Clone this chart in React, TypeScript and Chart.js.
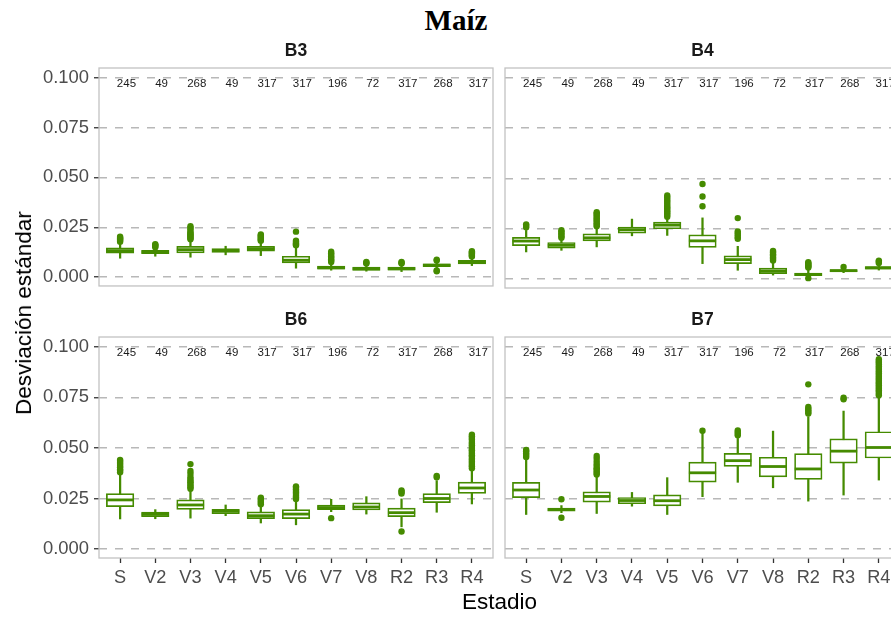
import React, { useEffect, useRef } from "react";
import { Chart, registerables } from "chart.js";

Chart.register(...registerables);

// ---------------- data ----------------
const stages = ["S", "V2", "V3", "V4", "V5", "V6", "V7", "V8", "R2", "R3", "R4"];
const countLabels = ["245", "49", "268", "49", "317", "317", "196", "72", "317", "268", "317"];
const yTickValues = [0, 0.025, 0.05, 0.075, 0.1];
const yTickLabels = ["0.000", "0.025", "0.050", "0.075", "0.100"];
const countLabelValue = 0.0969;

// B3
const b3Low = [0.0095, 0.0105, 0.0100, 0.0112, 0.0108, 0.0045, 0.0035, 0.0030, 0.0028, 0.0040, 0.0058];
const b3Q1 = [0.0120, 0.0118, 0.0122, 0.0124, 0.0130, 0.0072, 0.0040, 0.0034, 0.0035, 0.0053, 0.0067];
const b3Med = [0.0133, 0.0126, 0.0138, 0.0133, 0.0143, 0.0085, 0.0047, 0.0042, 0.0042, 0.0060, 0.0076];
const b3Q3 = [0.0147, 0.0134, 0.0154, 0.0143, 0.0155, 0.0105, 0.0055, 0.0050, 0.0050, 0.0067, 0.0085];
const b3High = [0.0175, 0.0145, 0.0185, 0.0155, 0.0178, 0.0145, 0.0068, 0.0065, 0.0065, 0.0080, 0.0100];
const b3Out = [
  [0.0178, 0.0183, 0.0189, 0.0194, 0.0198, 0.0203],
  [0.0150, 0.0156, 0.0161, 0.0165],
  [0.0190, 0.0195, 0.0201, 0.0206, 0.0211, 0.0216, 0.0221, 0.0229, 0.0240, 0.0248, 0.0255],
  [],
  [0.0182, 0.0187, 0.0193, 0.0198, 0.0204, 0.0209, 0.0214],
  [0.0160, 0.0165, 0.0170, 0.0176, 0.0183, 0.0228],
  [0.0076, 0.0083, 0.0090, 0.0097, 0.0104, 0.0112, 0.0120, 0.0128],
  [0.0068, 0.0072, 0.0076],
  [0.0068, 0.0072, 0.0076],
  [0.0030, 0.0034, 0.0083, 0.0088],
  [0.0103, 0.0108, 0.0114, 0.0120, 0.0125, 0.0130],
];

// B4
const b4Low = [0.0135, 0.0143, 0.0160, 0.0215, 0.0217, 0.0077, 0.0044, 0.0020, 0.0010, 0.0032, 0.0045];
const b4Q1 = [0.0166, 0.0154, 0.0190, 0.0228, 0.0250, 0.0158, 0.0077, 0.0027, 0.0017, 0.0037, 0.0050];
const b4Med = [0.0189, 0.0168, 0.0205, 0.0245, 0.0268, 0.0190, 0.0097, 0.0040, 0.0023, 0.0042, 0.0056];
const b4Q3 = [0.0207, 0.0182, 0.0225, 0.0258, 0.0283, 0.0220, 0.0116, 0.0055, 0.0030, 0.0047, 0.0062];
const b4High = [0.0242, 0.0198, 0.0255, 0.0298, 0.0300, 0.0304, 0.0163, 0.0085, 0.0055, 0.0055, 0.0075];
const b4Out = [
  [0.0258, 0.0265, 0.0272],
  [0.0205, 0.0212, 0.0220, 0.0228, 0.0236, 0.0243],
  [0.0262, 0.0270, 0.0277, 0.0286, 0.0294, 0.0301, 0.0310, 0.0318, 0.0325, 0.0332],
  [],
  [0.0310, 0.0318, 0.0327, 0.0334, 0.0341, 0.0350, 0.0357, 0.0366, 0.0377, 0.0386, 0.0395, 0.0406, 0.0415],
  [0.0362, 0.0410, 0.0472],
  [0.0200, 0.0208, 0.0218, 0.0228, 0.0237, 0.0303],
  [0.0092, 0.0100, 0.0108, 0.0117, 0.0124, 0.0132, 0.0140],
  [0.0005, 0.0058, 0.0063, 0.0068, 0.0073, 0.0079, 0.0084],
  [0.0060],
  [0.0080, 0.0086, 0.0092],
];

// B6
const b6Low = [0.0149, 0.0150, 0.0153, 0.0165, 0.0129, 0.0120, 0.0185, 0.0173, 0.0110, 0.0182, 0.0223];
const b6Q1 = [0.0210, 0.0160, 0.0196, 0.0175, 0.0150, 0.0150, 0.0195, 0.0193, 0.0160, 0.0230, 0.0275];
const b6Med = [0.0243, 0.0172, 0.0218, 0.0188, 0.0165, 0.0173, 0.0205, 0.0208, 0.0180, 0.0250, 0.0302];
const b6Q3 = [0.0274, 0.0183, 0.0243, 0.0197, 0.0184, 0.0195, 0.0217, 0.0228, 0.0203, 0.0274, 0.0331];
const b6High = [0.0371, 0.0195, 0.0290, 0.0218, 0.0215, 0.0240, 0.0246, 0.0259, 0.0248, 0.0338, 0.0393];
const b6Out = [
  [0.0380, 0.0388, 0.0395, 0.0404, 0.0411, 0.0420, 0.0427, 0.0435, 0.0441],
  [],
  [0.0298, 0.0306, 0.0313, 0.0322, 0.0330, 0.0337, 0.0346, 0.0356, 0.0372, 0.0386, 0.0420],
  [],
  [0.0222, 0.0230, 0.0239, 0.0247, 0.0254],
  [0.0248, 0.0256, 0.0263, 0.0272, 0.0280, 0.0287, 0.0296, 0.0304, 0.0310],
  [0.0153],
  [],
  [0.0087, 0.0275, 0.0283, 0.0290],
  [0.0355, 0.0362],
  [0.0400, 0.0409, 0.0416, 0.0425, 0.0431, 0.0440, 0.0447, 0.0457, 0.0464, 0.0471, 0.0480, 0.0489, 0.0495, 0.0504, 0.0513, 0.0521, 0.0529, 0.0541, 0.0549, 0.0558, 0.0565],
];

// B7
const b7Low = [0.0171, 0.0180, 0.0176, 0.0212, 0.0171, 0.0259, 0.0330, 0.0303, 0.0237, 0.0267, 0.0341];
const b7Q1 = [0.0254, 0.0187, 0.0232, 0.0224, 0.0213, 0.0331, 0.0409, 0.0357, 0.0344, 0.0425, 0.0450];
const b7Med = [0.0292, 0.0195, 0.0260, 0.0240, 0.0239, 0.0377, 0.0437, 0.0408, 0.0396, 0.0484, 0.0502];
const b7Q3 = [0.0330, 0.0203, 0.0283, 0.0255, 0.0268, 0.0430, 0.0473, 0.0454, 0.0472, 0.0545, 0.0580];
const b7High = [0.0443, 0.0215, 0.0358, 0.0280, 0.0353, 0.0572, 0.0547, 0.0583, 0.0654, 0.0682, 0.0753];
const b7Out = [
  [0.0455, 0.0465, 0.0474, 0.0483, 0.0490],
  [0.0155, 0.0246],
  [0.0368, 0.0376, 0.0384, 0.0393, 0.0400, 0.0411, 0.0420, 0.0433, 0.0448, 0.0460],
  [],
  [],
  [0.0585],
  [0.0562, 0.0570, 0.0578, 0.0586],
  [],
  [0.0670, 0.0678, 0.0686, 0.0694, 0.0702, 0.0814],
  [0.0740, 0.0748],
  [0.0760, 0.0768, 0.0777, 0.0785, 0.0792, 0.0801, 0.0810, 0.0818, 0.0826, 0.0835, 0.0843, 0.0851, 0.0860, 0.0869, 0.0877, 0.0886, 0.0895, 0.0904, 0.0913, 0.0922, 0.0930, 0.0938],
];

// ---------------- styling ----------------
const GREEN = "#458B00";
const SANS = '"Liberation Sans", Arial, Helvetica, sans-serif';
Chart.defaults.font.family = SANS;

type PanelSpec = {
  strip: string;
  low: number[];
  q1: number[];
  med: number[];
  q3: number[];
  high: number[];
  out: number[][];
  left: number;
  top: number;
  w: number;
  h: number;
  pad: { left: number; top: number; right: number; bottom: number };
  showY: boolean;
  showX: boolean;
};

const panelPlugin = {
  id: "panelDeco",
  beforeDatasetsDraw(chart: any) {
    const { ctx, scales } = chart;
    const x = scales.x;
    const y = scales.y;
    ctx.save();
    ctx.fillStyle = "#1a1a1a";
    ctx.font = `11.5px ${SANS}`;
    ctx.textAlign = "center";
    ctx.textBaseline = "middle";
    countLabels.forEach((c, i) => {
      ctx.fillText(c, x.getPixelForValue(i + 0.18), y.getPixelForValue(countLabelValue));
    });
    ctx.restore();
  },
  afterDraw(chart: any, _args: any, opts: any) {
    const { ctx, chartArea: a } = chart;
    ctx.save();
    ctx.strokeStyle = "#c2c2c2";
    ctx.lineWidth = 1.3;
    ctx.strokeRect(a.left, a.top, a.right - a.left, a.bottom - a.top);
    ctx.fillStyle = "#1a1a1a";
    ctx.font = `bold 17.5px ${SANS}`;
    ctx.textAlign = "center";
    ctx.textBaseline = "middle";
    ctx.fillText(opts.strip, (a.left + a.right) / 2, a.top - 17);
    ctx.restore();
  },
};

function buildConfig(p: PanelSpec): any {
  return {
    type: "bar",
    data: {
      datasets: [
        {
          type: "bar",
          data: stages.map((_, i) => ({ x: i, y: [p.low[i], p.high[i]] })),
          backgroundColor: GREEN,
          borderWidth: 0,
          barThickness: 1.6,
          grouped: false,
          order: 4,
        },
        {
          type: "bar",
          data: stages.map((_, i) => ({ x: i, y: [p.q1[i], p.q3[i]] })),
          backgroundColor: "#ffffff",
          borderColor: GREEN,
          borderWidth: 1.7,
          borderSkipped: false,
          barThickness: 27.5,
          grouped: false,
          order: 3,
        },
        {
          type: "scatter",
          data: stages.map((_, i) => ({ x: i, y: p.med[i] })),
          pointStyle: "line",
          pointRadius: 13.6,
          pointBorderWidth: 2.8,
          pointBorderColor: GREEN,
          borderColor: GREEN,
          order: 2,
        },
        {
          type: "scatter",
          data: p.out.flatMap((arr, i) => arr.map((v) => ({ x: i, y: v }))),
          pointRadius: 3.2,
          pointBackgroundColor: GREEN,
          pointBorderWidth: 0,
          order: 1,
        },
      ],
    },
    options: {
      animation: false,
      responsive: false,
      maintainAspectRatio: false,
      events: [],
      layout: { padding: p.pad, autoPadding: false },
      plugins: {
        legend: { display: false },
        tooltip: { enabled: false },
        title: { display: false },
        panelDeco: { strip: p.strip },
      },
      scales: {
        x: {
          type: "linear",
          min: -0.6,
          max: 10.6,
          offset: false,
          afterBuildTicks: (s: any) => {
            s.ticks = stages.map((_, i) => ({ value: i }));
          },
          ticks: {
            display: p.showX,
            autoSkip: false,
            maxRotation: 0,
            minRotation: 0,
            padding: 4,
            color: "#4d4d4d",
            font: { size: 18.2, family: SANS },
            callback: (v: any) => stages[Math.round(Number(v))] ?? "",
          },
          grid: {
            display: p.showX,
            offset: false,
            drawOnChartArea: false,
            drawTicks: p.showX,
            tickLength: 5,
            tickColor: "#333333",
            tickWidth: 1.3,
          },
          border: { display: false },
          afterFit: (s: any) => {
            s.height = p.showX ? 34 : 0;
          },
        },
        y: {
          type: "linear",
          min: -0.0044,
          max: 0.1048,
          afterBuildTicks: (s: any) => {
            s.ticks = yTickValues.map((v) => ({ value: v }));
          },
          ticks: {
            display: p.showY,
            padding: 5,
            color: "#4d4d4d",
            font: { size: 18.4, family: SANS },
            callback: (v: any) => {
              const idx = yTickValues.findIndex((t) => Math.abs(t - Number(v)) < 1e-9);
              return idx >= 0 ? yTickLabels[idx] : "";
            },
          },
          grid: {
            color: "#b8b8b8",
            lineWidth: 1.5,
            drawTicks: p.showY,
            tickLength: 5,
            tickColor: "#333333",
            tickWidth: 1.3,
            tickBorderDash: [],
          },
          border: { display: false, dash: [8, 8] },
          afterFit: (s: any) => {
            s.width = p.showY ? 99 : 0;
          },
        },
      },
    },
    plugins: [panelPlugin],
  };
}

const panels: PanelSpec[] = [
  {
    strip: "B3", low: b3Low, q1: b3Q1, med: b3Med, q3: b3Q3, high: b3High, out: b3Out,
    left: 0, top: 30, w: 496, h: 272, pad: { left: 0, top: 38, right: 3, bottom: 14 },
    showY: true, showX: false,
  },
  {
    strip: "B4", low: b4Low, q1: b4Q1, med: b4Med, q3: b4Q3, high: b4High, out: b4Out,
    left: 502, top: 30, w: 401, h: 272, pad: { left: 3, top: 38, right: 3, bottom: 14 },
    showY: false, showX: false,
  },
  {
    strip: "B6", low: b6Low, q1: b6Q1, med: b6Med, q3: b6Q3, high: b6High, out: b6Out,
    left: 0, top: 300, w: 496, h: 294, pad: { left: 0, top: 37, right: 3, bottom: 2 },
    showY: true, showX: true,
  },
  {
    strip: "B7", low: b7Low, q1: b7Q1, med: b7Med, q3: b7Q3, high: b7High, out: b7Out,
    left: 502, top: 300, w: 401, h: 294, pad: { left: 3, top: 37, right: 3, bottom: 2 },
    showY: false, showX: true,
  },
];

function PanelChart({ spec }: { spec: PanelSpec }) {
  const ref = useRef<HTMLCanvasElement>(null);
  useEffect(() => {
    if (!ref.current) return;
    const chart = new Chart(ref.current, buildConfig(spec));
    return () => chart.destroy();
  }, [spec]);
  return (
    <canvas
      ref={ref}
      width={spec.w}
      height={spec.h}
      style={{ position: "absolute", left: spec.left, top: spec.top, width: spec.w, height: spec.h }}
    />
  );
}

export default function App() {
  return (
    <div
      style={{
        position: "absolute",
        left: 0,
        top: 0,
        width: 891,
        height: 617,
        overflow: "hidden",
        background: "#ffffff",
      }}
    >
      <div
        style={{
          position: "absolute",
          left: 356,
          top: 6,
          width: 200,
          textAlign: "center",
          fontFamily: '"Liberation Serif", "Times New Roman", serif',
          fontWeight: "bold",
          fontSize: 29,
          lineHeight: "29px",
          color: "#000",
        }}
      >
        Maíz
      </div>
      {panels.map((p) => (
        <PanelChart key={p.strip} spec={p} />
      ))}
      <div
        style={{
          position: "absolute",
          left: 24,
          top: 313,
          transform: "translate(-50%, -50%) rotate(-90deg)",
          whiteSpace: "nowrap",
          fontFamily: SANS,
          fontSize: 22.5,
          lineHeight: "26px",
          color: "#000",
        }}
      >
        Desviación estándar
      </div>
      <div
        style={{
          position: "absolute",
          left: 499.5,
          top: 602,
          transform: "translate(-50%, -50%)",
          whiteSpace: "nowrap",
          fontFamily: SANS,
          fontSize: 22.5,
          lineHeight: "26px",
          color: "#000",
        }}
      >
        Estadio
      </div>
    </div>
  );
}
